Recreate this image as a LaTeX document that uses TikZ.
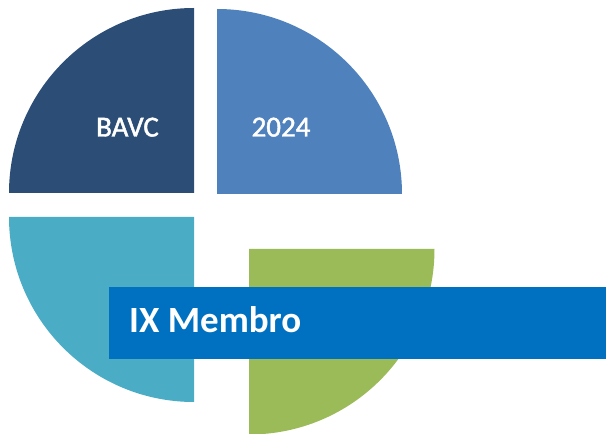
\documentclass[tikz,border=0pt]{standalone}
\usepackage{fontspec}
\setmainfont{Carlito}
% slightly emboldened face for the outlined labels
\newfontfamily\labelfont[FakeBold=1.6]{Carlito}
\definecolor{qdark}{HTML}{2C4D75}
\definecolor{qblue}{HTML}{4F81BD}
\definecolor{qteal}{HTML}{4BACC6}
\definecolor{qgreen}{HTML}{9BBB59}
\definecolor{banner}{HTML}{0070C0}
\begin{document}
\begin{tikzpicture}[x=1pt,y=1pt,
  quarter/.style={fill=#1,draw=none},
  caption/.style={text=white,inner sep=0pt,anchor=base,font=\labelfont\fontsize{29}{31}\selectfont},
  title/.style={text=white,inner sep=0pt,anchor=base west,font=\bfseries\fontsize{37}{40}\selectfont}]
  \useasboundingbox (0,0) rectangle (606,434);
  % four quarter discs
  \fill[quarter=qdark]  (194,241) -- (9,241) arc[start angle=180,end angle=90,radius=185] -- cycle;
  \fill[quarter=qblue]  (217,240) -- (217,425) arc[start angle=90,end angle=0,radius=185] -- cycle;
  \fill[quarter=qteal]  (194,217) -- (9,217) arc[start angle=180,end angle=270,radius=185] -- cycle;
  \fill[quarter=qgreen] (249,185) -- (434.5,185) arc[start angle=0,end angle=-90,radius=185.5] -- cycle;
  % banner
  \fill[banner] (109,75.3) rectangle (606,146.7);
  \node[title] (membro) at (129,101) {IX Membro};
  % labels on the upper quarters
  \node[caption] (bavc) at (127.5,297.5) {BAVC};
  \node[caption] (year) at (281,297.5) {2024};
\end{tikzpicture}
\end{document}
